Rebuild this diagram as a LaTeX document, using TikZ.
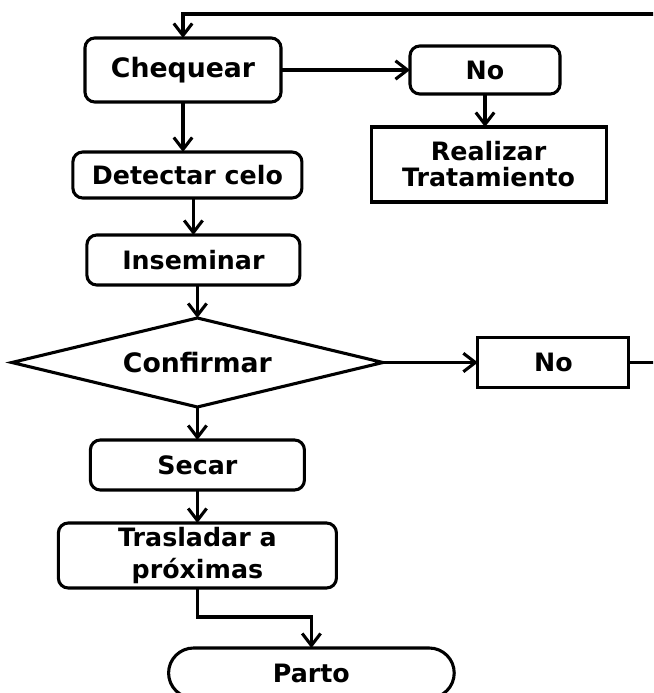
\documentclass[tikz,border=0pt]{standalone}
\usepackage{fontspec}
\setmainfont{DejaVu Sans}
\usetikzlibrary{positioning}
\usetikzlibrary{shapes.geometric}
\usetikzlibrary{shapes.misc}
\usetikzlibrary{arrows.meta}

\begin{document}
\begin{tikzpicture}[
        every node/.style = {font=\bfseries\fontsize{18}{21}\selectfont, outer sep=0pt},
        paso/.style = {draw, line width=2.2pt, rounded corners=7pt, align=center, inner sep=0pt},
        caja/.style = {draw, line width=2.2pt, align=center, inner sep=0pt},
        decision/.style = {draw, diamond, aspect=4.17, line width=2.2pt, inner sep=0pt,
                minimum width=9.275cm, minimum height=2.225cm},
        fin/.style = {draw, rounded rectangle, line width=2.2pt,
                minimum width=7.375cm, minimum height=1.25cm},
        flecha/.style = {line width=2.2pt, -{Straight Barb[length=3mm,width=4.6mm]}}
    ]
    \clip (0,0) rectangle (16.325,-17.325);

    \node[paso, minimum width=4.9cm, minimum height=1.6cm,
        font=\bfseries\fontsize{19}{21}\selectfont] (chequear) at (4.575,-1.75) {Chequear};
    \node[paso, minimum width=3.75cm, minimum height=1.2cm, right=3.225cm of chequear] (no1) {No};
    \node[caja, minimum width=5.875cm, minimum height=1.875cm, below=0.825cm of no1, xshift=0.09cm,
        font=\bfseries\fontsize{18}{18.5}\selectfont] (realizar) {Realizar\\Tratamiento};
    \node[paso, minimum width=5.725cm, minimum height=1.15cm, below=1.25cm of chequear, xshift=0.11cm] (detectar) {Detectar celo};
    \node[paso, minimum width=5.325cm, minimum height=1.25cm, below=0.925cm of detectar, xshift=0.15cm] (inseminar) {Inseminar};
    \node[decision, below=0.825cm of inseminar, xshift=0.1cm,
        font=\bfseries\fontsize{19}{21}\selectfont] (confirmar) {Confirmar};
    \node[caja, minimum width=3.775cm, minimum height=1.25cm, right=2.375cm of confirmar] (no2) {No};
    \node[paso, minimum width=5.35cm, minimum height=1.25cm, below=0.825cm of confirmar] (secar) {Secar};
    \node[paso, minimum width=6.95cm, minimum height=1.625cm, below=0.825cm of secar,
        font=\bfseries\fontsize{18}{22.5}\selectfont] (trasladar) {Trasladar a\\próximas};
    \node[fin, below=1.5cm of trasladar, xshift=2.85cm] (parto) {Parto};

    % vuelta desde el segundo No
    \coordinate (esquina) at (16.7,-0.35);

    \draw[flecha] (chequear) -- (no1);
    \draw[flecha] (no1.south) -- (no1.south |- realizar.north);
    \draw[flecha] (chequear.south) -- (chequear.south |- detectar.north);
    \draw[flecha] (inseminar.north |- detectar.south) -- (inseminar.north);
    \draw[flecha] (confirmar.north |- inseminar.south) -- (confirmar.north);
    \draw[flecha] (confirmar) -- (no2);
    \draw[flecha] (confirmar.south) -- (secar.north);
    \draw[flecha] (secar) -- (trasladar);
    \draw[flecha] (trasladar.south) -- ++(0,-0.725) -| (parto.north);
    \draw[flecha] (no2.east) -| (esquina) -| (chequear.north);
\end{tikzpicture}
\end{document}
